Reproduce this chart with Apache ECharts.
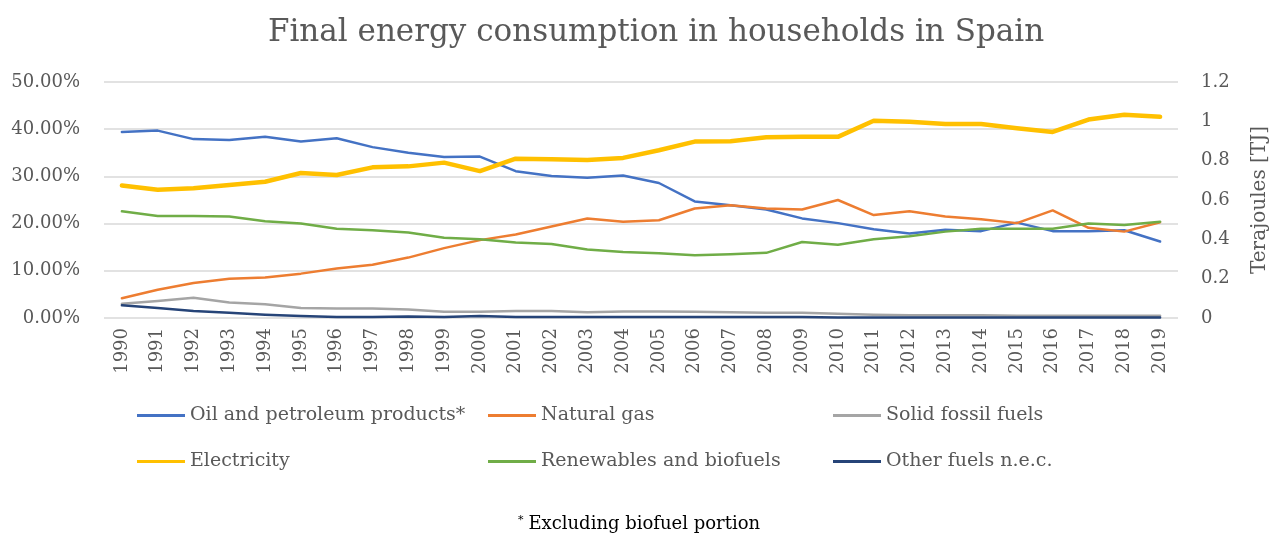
<!DOCTYPE html>
<html>
<head>
<meta charset="utf-8">
<script src="https://cdn.jsdelivr.net/npm/echarts@6/dist/echarts.min.js"></script>
<style>
html,body{margin:0;padding:0;background:#fff;}
#c{width:1278px;height:540px;}
</style>
</head>
<body>
<div id="c"></div>
<script>
var years = ['1990','1991','1992','1993','1994','1995','1996','1997','1998','1999','2000','2001','2002','2003','2004','2005','2006','2007','2008','2009','2010','2011','2012','2013','2014','2015','2016','2017','2018','2019'];
var oil = [39.4,39.7,37.9,37.7,38.4,37.4,38.1,36.2,35.0,34.1,34.2,31.1,30.1,29.7,30.2,28.6,24.7,23.9,23.0,21.1,20.1,18.8,17.9,18.7,18.4,20.2,18.4,18.4,18.6,16.2];
var gas = [4.2,6.0,7.4,8.3,8.6,9.4,10.5,11.3,12.8,14.8,16.5,17.7,19.4,21.1,20.4,20.7,23.2,23.9,23.2,23.0,25.0,21.8,22.6,21.5,20.9,20.1,22.8,19.1,18.3,20.3];
var solid = [3.0,3.6,4.3,3.3,2.9,2.1,2.0,2.0,1.8,1.3,1.3,1.5,1.5,1.2,1.4,1.4,1.3,1.2,1.1,1.1,0.9,0.7,0.6,0.6,0.6,0.5,0.5,0.5,0.5,0.5];
var electricity = [0.674,0.652,0.660,0.676,0.693,0.737,0.727,0.766,0.771,0.790,0.747,0.810,0.807,0.803,0.814,0.853,0.897,0.899,0.919,0.921,0.921,1.003,0.998,0.986,0.986,0.965,0.946,1.009,1.033,1.023];
var renew = [22.6,21.6,21.6,21.5,20.5,20.0,18.9,18.6,18.1,17.0,16.7,16.0,15.7,14.5,14.0,13.7,13.3,13.5,13.8,16.1,15.5,16.7,17.3,18.3,18.9,18.9,18.9,20.0,19.7,20.4];
var other = [2.7,2.1,1.5,1.1,0.7,0.4,0.2,0.2,0.3,0.2,0.4,0.2,0.2,0.2,0.2,0.2,0.2,0.2,0.2,0.2,0.1,0.1,0.1,0.1,0.1,0.1,0.1,0.1,0.1,0.1];
var leftTicks = [0,10,20,30,40,50];
var rightTicks = [0,0.2,0.4,0.6,0.8,1,1.2];
var names = ['Oil and petroleum products*','Natural gas','Solid fossil fuels','Electricity','Renewables and biofuels','Other fuels n.e.c.'];
var colors = ['#4472C4','#ED7D31','#A5A5A5','#FFC000','#70AD47','#264478'];

var FONT = '"DejaVu Serif", "Liberation Serif", serif';
var TXT = '#595959';

function mkSeries(i, data, yIdx, w){
  return {name:names[i], type:'line', data:data, yAxisIndex:yIdx, symbol:'none', smooth:false,
    lineStyle:{color:colors[i], width:w, cap:'round', join:'round'}, itemStyle:{color:colors[i]}, z: 2 + (i===3?1:0)};
}
var legendPos = [[137,406],[488,406],[833,406],[137,452],[488,452],[833,452]];
var legends = names.map(function(n,i){
  return {data:[n], left:legendPos[i][0], top:legendPos[i][1], itemWidth:48, itemHeight:3, itemGap:0,
    icon:'rect', selectedMode:false, padding:0,
    textStyle:{fontFamily:FONT, fontSize:19, color:TXT}};
});

var chart = echarts.init(document.getElementById('c'), null, {renderer:'canvas'});
chart.setOption({
  animation:false,
  color:colors,
  title:{text:'Final energy consumption in households in Spain', left:651, textAlign:'center', top:12,
    textStyle:{fontFamily:FONT, fontSize:31, fontWeight:'normal', color:TXT}},
  legend:legends,
  grid:{left:104, right:94, top:82, bottom:222, containLabel:false},
  xAxis:{type:'category', data:years, boundaryGap:true,
    axisLine:{show:false}, axisTick:{show:false},
    axisLabel:{rotate:90, interval:0, margin:10, fontFamily:FONT, fontSize:18, color:TXT}},
  yAxis:[
    {type:'value', min:0, max:50, interval:10, position:'left',
      axisLine:{show:false}, axisTick:{show:false},
      splitLine:{lineStyle:{color:'#D9D9D9', width:1.5}},
      axisLabel:{margin:24, fontFamily:FONT, fontSize:18, color:TXT,
        formatter:function(v){return v.toFixed(2)+'%';}}},
    {type:'value', min:0, max:1.2, interval:0.2, position:'right',
      name:'Terajoules [TJ]', nameLocation:'middle', nameRotate:90, nameGap:72,
      nameTextStyle:{fontFamily:FONT, fontSize:20, color:TXT},
      axisLine:{show:false}, axisTick:{show:false}, splitLine:{show:false},
      axisLabel:{margin:23, fontFamily:FONT, fontSize:18, color:TXT,
        formatter:function(v){return String(Math.round(v*10)/10);}}}
  ],
  series:[
    mkSeries(0, oil, 0, 2.5),
    mkSeries(1, gas, 0, 2.5),
    mkSeries(2, solid, 0, 2.5),
    mkSeries(3, electricity, 1, 4.5),
    mkSeries(4, renew, 0, 2.5),
    mkSeries(5, other, 0, 2.5)
  ],
  graphic:[{type:'text', left:'center', top:515,
    style:{rich:{s:{fontFamily:FONT, fontSize:11, fill:'#000', verticalAlign:'top', padding:[0,5,8,0]},
                 t:{fontFamily:FONT, fontSize:18, fill:'#000'}},
           text:'{s|*}{t|Excluding biofuel portion}'}}]
});
</script>
</body>
</html>
